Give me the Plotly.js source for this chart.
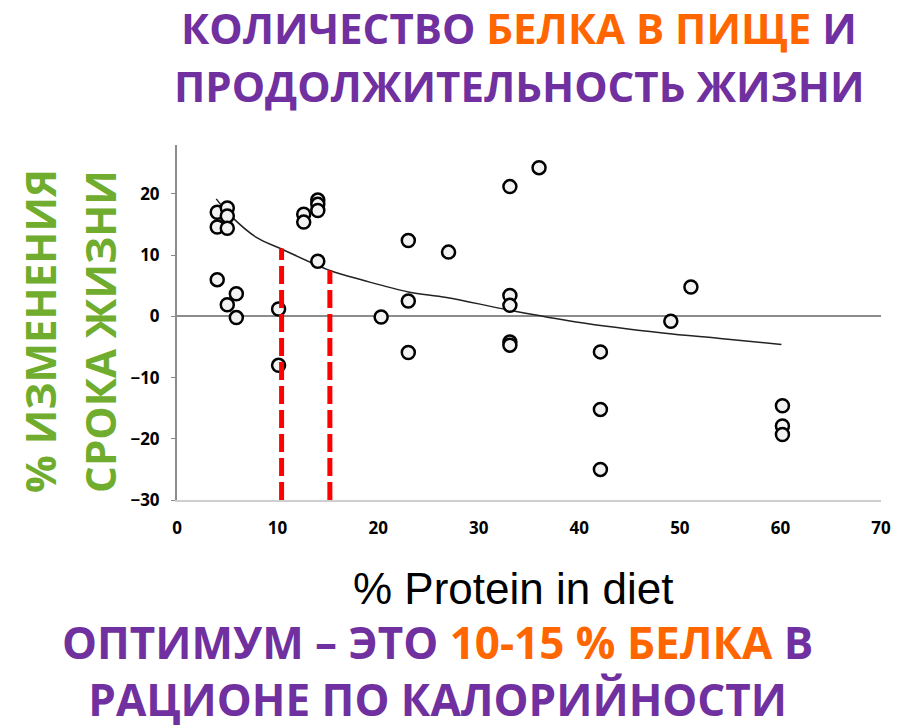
<!DOCTYPE html>
<html>
<head>
<meta charset="utf-8">
<script src="https://cdn.plot.ly/plotly-3.0.1.min.js"></script>
<style>
  body { margin: 0; background: #fff; }
  #myPlot { width: 910px; height: 728px; }
</style>
</head>
<body>
<div id="myPlot"></div>
<script>
// Points: % protein in diet vs % change of lifespan
var protein = [4, 5, 5, 4, 5, 4, 5, 5.9, 5.9, 10.1, 10.1, 12.6, 12.6, 14, 14, 14, 14,
    20.3, 23, 23, 23, 27, 33.1, 33.1, 33.1, 33.1, 33.1, 36, 42.1, 42.1, 42.1, 49.1, 51.1,
    60.2, 60.2, 60.2];
var lifespan = [17.0, 17.7, 16.4, 14.6, 14.4, 6.0, 1.9, 3.7, -0.2, 1.2, -8.0, 16.7, 15.4,
    19.0, 18.3, 17.3, 9.0, -0.1, 12.4, 2.5, -5.9, 10.5, 21.2, 3.4, 1.8, -4.2, -4.7, 24.3,
    -5.8, -15.2, -25.0, -0.8, 4.8, -14.6, -17.9, -19.3];

// Trend curve, read point by point
var trendX = [3.9, 5.3, 7.9, 10.4, 15.2, 18.5, 23, 26.8, 33.1, 39.7, 48.3, 54, 60.1];
var trendY = [19.2, 16.5, 12.9, 11.0, 7.5, 5.9, 4.0, 3.1, 1.0, -0.9, -2.7, -3.6, -4.6];

// Red dashed markers of the optimum (10-15 %)
var optX = [10.4, 15.2];
var optTop = [11.1, 7.5];
var yBottom = -30;

var xTicks = [0, 10, 20, 30, 40, 50, 60, 70];
var yTicks = [-30, -20, -10, 0, 10, 20];

var purple = "#7030A0";
var orange = "#FF6600";
var green = "#70AD2F";
var bigFont = "Open Sans, Noto Sans, sans-serif";

var data = [{
    x: trendX,
    y: trendY,
    mode: "lines",
    line: { color: "#222", width: 1.5, shape: "spline" },
    hoverinfo: "skip"
},
{
    x: protein,
    y: lifespan,
    mode: "markers",
    marker: { symbol: "circle", size: 13, color: "#f2f2f2", line: { color: "#000", width: 2.5 } }
}];

// one trace per red line
for (var i = 0; i < optX.length; i++) {
    data.push({
        x: [optX[i], optX[i]],
        y: [yBottom, optTop[i]],
        mode: "lines",
        line: { color: "#FF0000", width: 5, dash: "18px,6px" },
        hoverinfo: "skip"
    });
}

var boldFont = function (size, color) {
    return { family: bigFont, size: size, color: color, weight: 700 };
};

// text label placed in paper units, always centred on its point
function label(x, y, text, font, angle) {
    return {
        xref: "paper", yref: "paper", x: x, y: y,
        xanchor: "center", yanchor: "middle",
        showarrow: false, text: text, font: font, textangle: angle || 0
    };
}

var layout = {
    width: 910,
    height: 728,
    margin: { l: 177, r: 29, t: 145, b: 228 },
    paper_bgcolor: "#fff",
    plot_bgcolor: "#fff",
    showlegend: false,
    xaxis: {
        range: [0, 70],
        tickvals: xTicks,
        ticks: "",
        ticklabelstandoff: 12,
        showgrid: false,
        zeroline: false,
        showline: true,
        linecolor: "#cfcfcf",
        linewidth: 2,
        tickfont: boldFont(17, "#000")
    },
    yaxis: {
        range: [-30, 28],
        tickvals: yTicks,
        ticks: "outside",
        ticklen: 4,
        tickcolor: "#888",
        ticklabelstandoff: 8,
        showgrid: false,
        zeroline: true,
        zerolinecolor: "#8c8c8c",
        zerolinewidth: 2,
        showline: true,
        linecolor: "#8c8c8c",
        linewidth: 2,
        tickfont: boldFont(17, "#000")
    },
    annotations: [
        label(0.486, 1.3296, "КОЛИЧЕСТВО <span style='color:" + orange + "'>БЕЛКА В ПИЩЕ</span> И", boldFont(42, purple)),
        label(0.486, 1.169, "ПРОДОЛЖИТЕЛЬНОСТЬ ЖИЗНИ", boldFont(42, purple)),
        label(-0.196, 0.476, "% ИЗМЕНЕНИЯ", boldFont(42, green), -90),
        label(-0.111, 0.476, "СРОКА ЖИЗНИ", boldFont(42, green), -90),
        label(0.477, -0.248, "% Protein in diet", { family: "Liberation Sans, Arial, sans-serif", size: 44, color: "#000" }),
        label(0.37, -0.479, "ОПТИМУМ – ЭТО <span style='color:" + orange + "'>10-15 % БЕЛКА</span> В<br>РАЦИОНЕ ПО КАЛОРИЙНОСТИ", boldFont(44, purple))
    ]
};

Plotly.newPlot("myPlot", data, layout, { displayModeBar: false, staticPlot: true });
</script>
</body>
</html>
